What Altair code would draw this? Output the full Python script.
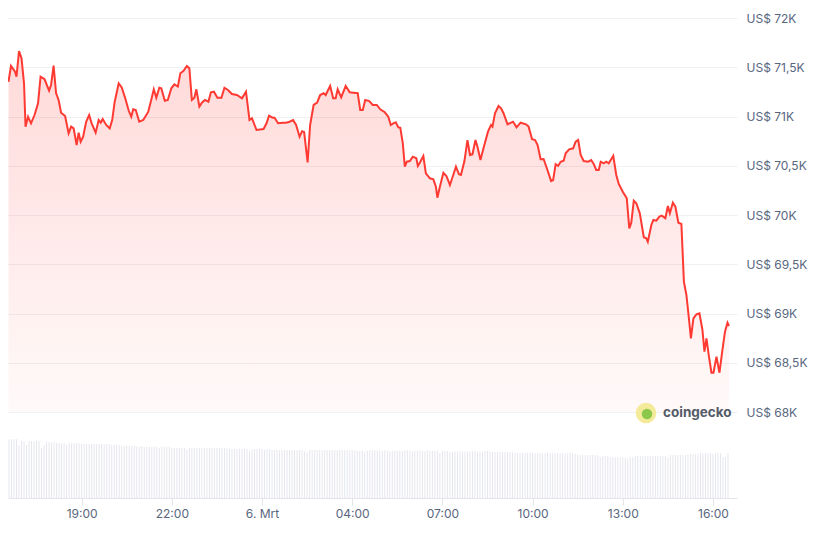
import altair as alt
import pandas as pd

# price trace: minutes after 5 Mar 16:00, price in USD
price_min = [
    34, 39, 47, 50, 55, 60, 65, 68, 73, 79, 86, 93, 98, 106, 115, 119, 124, 129, 134, 139,
    147, 154, 159, 164, 170, 174, 178, 183, 189, 195, 200, 208, 214, 218, 222, 229, 236, 241, 246, 254,
    260, 267, 274, 279, 283, 288, 295, 303, 313, 318, 324, 329, 335, 339, 346, 352, 359, 365, 372, 377,
    383, 390, 395, 400, 405, 409, 415, 420, 426, 433, 438, 444, 451, 459, 465, 472, 480, 490, 500, 508,
    515, 520, 529, 543, 549, 554, 561, 565, 572, 582, 588, 595, 602, 608, 615, 620, 624, 631, 636, 643,
    650, 656, 663, 667, 676, 682, 687, 691, 698, 707, 715, 723, 731, 736, 741, 746, 754, 761, 769, 776,
    785, 792, 797, 802, 807, 812, 816, 821, 825, 829, 835, 841, 848, 851, 856, 862, 867, 875, 882, 887,
    890, 895, 902, 908, 915, 921, 927, 933, 937, 944, 950, 955, 960, 966, 970, 976, 982, 991, 997, 1000,
    1005, 1012, 1017, 1022, 1030, 1037, 1041, 1048, 1056, 1067, 1072, 1079, 1085, 1090, 1096, 1102, 1109, 1117, 1121, 1126,
    1131, 1136, 1142, 1146, 1153, 1161, 1166, 1171, 1176, 1182, 1191, 1197, 1202, 1207, 1212, 1216, 1222, 1227, 1232, 1236,
    1241, 1247, 1252, 1260, 1268, 1273, 1277, 1282, 1287, 1294, 1302, 1307, 1310, 1317, 1321, 1327, 1333, 1338, 1345, 1350,
    1354, 1360, 1365, 1371, 1377, 1382, 1387, 1392, 1396, 1401, 1407, 1413, 1419, 1423, 1427, 1432, 1437, 1441, 1447, 1453,
    1458, 1464, 1469, 1472,
]
price_usd = [
    71353, 71513, 71455, 71404, 71665, 71591, 71337, 70897, 70998, 70931, 71015, 71134, 71404, 71378, 71262, 71320, 71516, 71236, 71168, 71039,
    71005, 70829, 70897, 70880, 70711, 70836, 70744, 70795, 70947, 71015, 70931, 70836, 70964, 70937, 70975, 70914, 70880, 70964, 71150, 71337,
    71296, 71185, 71058, 70998, 71074, 71066, 70947, 70964, 71049, 71150, 71276, 71191, 71292, 71286, 71160, 71168, 71286, 71327, 71303, 71439,
    71462, 71513, 71489, 71168, 71191, 71276, 71100, 71140, 71168, 71150, 71246, 71252, 71191, 71191, 71292, 71269, 71228, 71218, 71185, 71252,
    70964, 70982, 70863, 70873, 70931, 71008, 70988, 70988, 70931, 70937, 70937, 70947, 70964, 70914, 70795, 70851, 70843, 70533, 70914, 71117,
    71140, 71218, 71236, 71218, 71310, 71185, 71185, 71276, 71195, 71310, 71246, 71242, 71236, 71066, 71066, 71168, 71157, 71117, 71117, 71073,
    71043, 70998, 70914, 70931, 70941, 70890, 70886, 70728, 70490, 70541, 70548, 70592, 70576, 70498, 70541, 70599, 70423, 70373, 70362, 70287,
    70176, 70287, 70429, 70396, 70305, 70396, 70490, 70414, 70406, 70548, 70761, 70609, 70616, 70761, 70693, 70558, 70677, 70846, 70914, 70897,
    71033, 71107, 71083, 71033, 70921, 70937, 70947, 70890, 70937, 70921, 70897, 70769, 70761, 70711, 70566, 70569, 70467, 70345, 70355, 70515,
    70498, 70541, 70551, 70626, 70667, 70677, 70744, 70761, 70609, 70548, 70541, 70558, 70518, 70457, 70457, 70541, 70525, 70541, 70525, 70558,
    70601, 70406, 70315, 70237, 70170, 69865, 69922, 70145, 70119, 70017, 69774, 69764, 69729, 69899, 69949, 69942, 69983, 69993, 69967, 70091,
    70017, 70125, 70084, 69922, 69909, 69323, 69188, 68951, 68748, 68951, 68992, 69002, 68833, 68612, 68748, 68562, 68399, 68399, 68562, 68399,
    68596, 68815, 68907, 68873,
]

# volume bars, one per 5 minutes from 16:35 (one row = one hour)
volume = [
    58.7, 58.7, 58.7, 58.7, 53.0, 57.0, 57.0, 53.0, 57.0, 57.0, 56.3, 57.0,
    57.0, 50.0, 53.0, 56.3, 55.7, 55.7, 55.7, 55.3, 54.7, 54.7, 54.7, 53.0,
    54.7, 54.7, 54.7, 54.7, 54.7, 54.0, 54.0, 54.0, 54.0, 54.0, 54.0, 54.0,
    54.0, 54.0, 54.0, 54.0, 54.0, 53.0, 53.0, 53.0, 53.0, 52.0, 52.0, 52.5,
    52.0, 52.0, 52.0, 51.5, 51.0, 52.0, 51.3, 51.3, 51.3, 51.3, 51.3, 51.3,
    50.0, 51.3, 51.3, 51.3, 51.3, 50.0, 50.0, 50.0, 50.0, 50.0, 50.0, 48.7,
    50.0, 50.0, 50.0, 50.0, 50.0, 50.0, 50.0, 50.0, 50.0, 50.0, 50.0, 50.0,
    50.0, 50.0, 50.0, 49.5, 49.0, 49.0, 49.0, 49.0, 49.0, 49.0, 49.0, 49.0,
    47.3, 49.0, 49.0, 49.0, 49.0, 49.0, 48.0, 49.0, 49.0, 48.0, 48.0, 48.0,
    48.0, 48.0, 48.0, 48.0, 48.0, 48.0, 48.0, 48.0, 48.0, 48.0, 47.0, 45.7,
    48.0, 48.0, 48.0, 48.0, 48.0, 47.7, 48.0, 48.0, 48.0, 48.0, 48.0, 48.0,
    48.0, 48.0, 48.0, 48.0, 48.0, 47.7, 47.7, 47.3, 47.3, 47.7, 46.3, 47.3,
    47.7, 48.0, 48.0, 47.7, 47.7, 47.3, 48.0, 47.3, 47.3, 47.3, 47.3, 47.3,
    47.3, 47.3, 47.3, 48.0, 47.3, 47.3, 47.3, 47.3, 48.0, 47.0, 47.0, 48.0,
    47.3, 47.3, 47.3, 47.3, 45.0, 47.3, 47.3, 47.0, 46.0, 46.3, 46.7, 46.3,
    46.7, 46.7, 46.3, 46.3, 46.7, 46.7, 47.0, 46.3, 46.3, 46.3, 47.0, 47.0,
    46.7, 46.0, 46.0, 46.0, 46.3, 46.3, 46.0, 45.7, 45.7, 45.7, 45.3, 45.3,
    45.3, 45.3, 45.3, 45.3, 45.3, 45.3, 45.0, 44.7, 45.0, 44.7, 44.7, 45.0,
    44.7, 44.7, 44.7, 44.7, 44.7, 44.7, 44.7, 44.7, 44.7, 44.7, 44.0, 43.7,
    43.0, 43.0, 43.0, 43.0, 43.0, 43.0, 42.7, 42.7, 40.7, 41.7, 42.3, 42.0,
    40.7, 40.7, 40.7, 40.7, 40.7, 40.7, 40.7, 39.3, 41.0, 41.3, 42.0, 42.0,
    42.0, 42.0, 42.0, 42.0, 42.0, 42.0, 42.0, 42.0, 42.0, 42.0, 42.0, 40.7,
    43.0, 43.0, 43.0, 43.0, 43.0, 43.0, 43.3, 43.7, 43.7, 43.7, 43.7, 44.0,
    44.7, 44.7, 44.7, 44.7, 44.7, 44.0, 44.7, 44.7, 44.7, 40.7, 40.7, 45.0,
]

price_ticks = [68000, 68500, 69000, 69500, 70000, 70500, 71000, 71500, 72000]
time_ticks = [19, 22, 25, 28, 31, 34, 37, 40]  # hours after 5 Mar 00:00

base = pd.Timestamp('2024-03-05 16:00')
price_df = pd.DataFrame({
    'time': [base + pd.Timedelta(minutes=m) for m in price_min],
    'price': price_usd,
})
vol_df = pd.DataFrame({
    'time': pd.date_range('2024-03-05 16:35', periods=len(volume), freq='5min'),
    'volume': volume,
})

day0 = pd.Timestamp('2024-03-05')
tick_values = [
    alt.DateTime(year=2024, month=3, date=(day0 + pd.Timedelta(hours=h)).day,
                 hours=(day0 + pd.Timedelta(hours=h)).hour)
    for h in time_ticks
]
x_domain = [
    (base + pd.Timedelta(minutes=43)).isoformat(),
    (base + pd.Timedelta(minutes=1478)).isoformat(),
]

RED = '#ff3a33'
GREY_TXT = '#58667e'

x_enc = alt.X(
    'time:T', title=None,
    scale=alt.Scale(domain=x_domain),
    axis=alt.Axis(
        values=tick_values, grid=False, domain=True,
        domainColor='#e3e5ea', tickColor='#e3e5ea', tickSize=7,
        labelColor=GREY_TXT, labelFontSize=12, labelPadding=3,
        labelExpr="hours(datum.value) == 1 ? '6. Mrt' : timeFormat(datum.value, '%H:%M')",
    ),
)

bars = alt.Chart(vol_df).mark_bar(size=1, color='#e6e7ee', clip=True).encode(
    x=x_enc,
    y=alt.Y('volume:Q', axis=None, scale=alt.Scale(domain=[0, 60], range=[480, 420])),
)

gradient = alt.Gradient(
    gradient='linear',
    stops=[alt.GradientStop(color='rgba(255,58,51,0.27)', offset=0),
           alt.GradientStop(color='rgba(255,58,51,0.04)', offset=1)],
    x1=1, x2=1, y1=0, y2=1,
)

price = alt.Chart(price_df).mark_area(
    color=gradient, clip=True,
    line=alt.OverlayMarkDef(color=RED, strokeWidth=2, clip=True),
).encode(
    x=x_enc,
    y=alt.Y(
        'price:Q', title=None,
        scale=alt.Scale(domain=[68000, 72000], range=[394, 0]),
        axis=alt.Axis(
            orient='right', values=price_ticks, grid=True, gridColor='#eff0f3',
            domain=False, ticks=False, labelPadding=9,
            labelColor=GREY_TXT, labelFontSize=12,
            labelExpr="'US$ ' + replace(format(datum.value / 1000, '.1~f'), '.', ',') + 'K'",
        ),
    ),
    y2=alt.datum(68000),
)

brand = pd.DataFrame({'name': ['coingecko']})
logo_bg = alt.Chart(brand).mark_point(
    filled=True, color='#f3ea9a', size=420, opacity=1
).encode(x=alt.value(638), y=alt.value(395))
logo_fg = alt.Chart(brand).mark_point(
    filled=True, color='#8cc84b', size=110, opacity=1
).encode(x=alt.value(639), y=alt.value(396))
logo_txt = alt.Chart(brand).mark_text(
    align='left', baseline='middle', fontSize=13.5, fontWeight='bold', color='#555b69'
).encode(text='name:N', x=alt.value(655), y=alt.value(395))

chart = alt.layer(bars, price, logo_bg, logo_fg, logo_txt).resolve_scale(
    y='independent'
).properties(
    width=729, height=480,
    autosize=alt.AutoSizeParams(type='none'),
    padding={'left': 0, 'top': 10, 'right': 72, 'bottom': 28},
).configure(
    font='Inter',
).configure_view(
    stroke=None
).configure_axisY(
    domain=False, ticks=False
)

chart.save('out.html', embed_options={'renderer': 'svg', 'actions': False})
